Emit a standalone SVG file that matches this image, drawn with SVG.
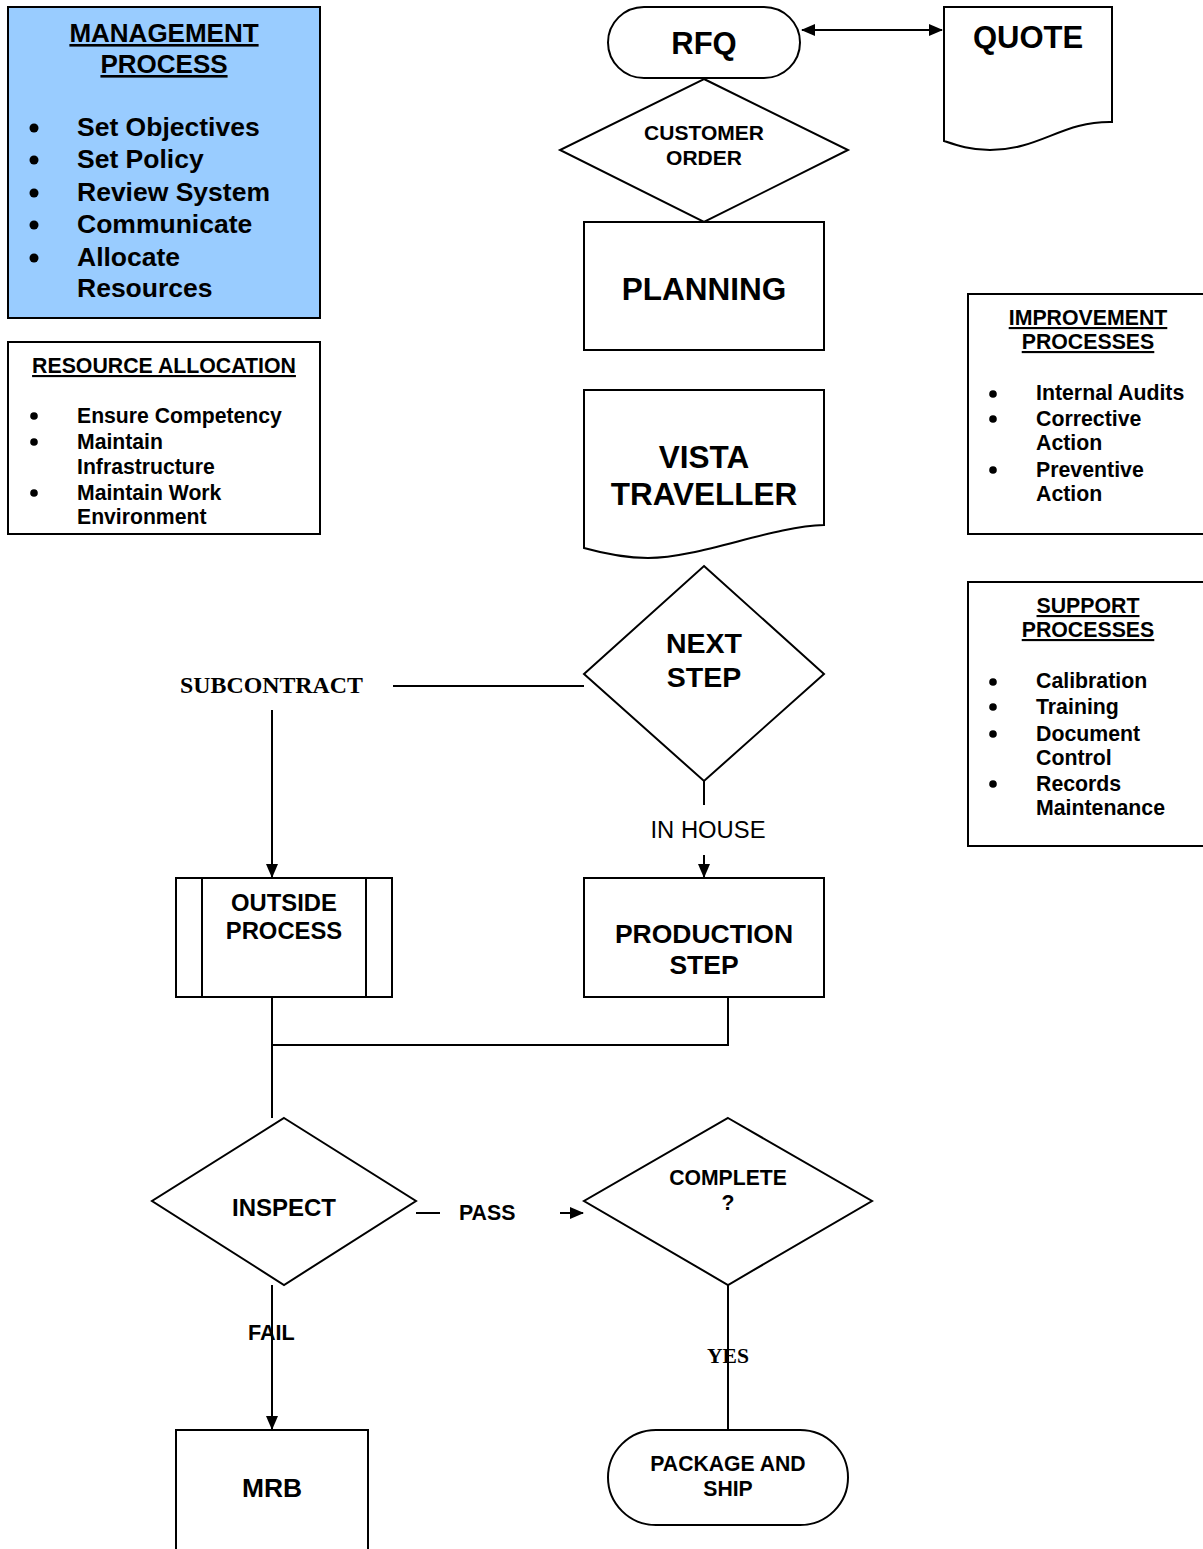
<svg xmlns="http://www.w3.org/2000/svg" width="1203" height="1549" viewBox="0 0 1203 1549">
  <style>
    .box { fill: #ffffff; stroke: #000; stroke-width: 2; }
    .ln { fill: none; stroke: #000; stroke-width: 2; }
    .t { font-family: "Liberation Sans", Arial, sans-serif; font-weight: bold; fill: #000; }
    .c { text-anchor: middle; }
    .u { text-decoration: underline; }
    .serif { font-family: "Liberation Serif", "Times New Roman", serif; font-weight: bold; fill: #000; }
  </style>
  <defs>
    <marker id="arr" markerUnits="userSpaceOnUse" markerWidth="14" markerHeight="12" refX="13" refY="6" orient="auto-start-reverse">
      <path d="M0,0 L14,6 L0,12 Z" fill="#000"/>
    </marker>
  </defs>
  <rect width="1203" height="1549" fill="#ffffff"/>

  <!-- side panels -->
  <g id="management">
    <rect x="8" y="7" width="312" height="311" fill="#99CCFF" stroke="#000" stroke-width="2"/>
    <text class="t c u" x="164" y="42" font-size="26">MANAGEMENT</text>
    <text class="t c u" x="164" y="73" font-size="26">PROCESS</text>
    <g fill="#000">
      <circle cx="34" cy="128" r="4.5"/>
      <circle cx="34" cy="160" r="4.5"/>
      <circle cx="34" cy="193" r="4.5"/>
      <circle cx="34" cy="225" r="4.5"/>
      <circle cx="34" cy="258" r="4.5"/>
    </g>
    <g class="t" font-size="26.5">
      <text x="77" y="136">Set Objectives</text>
      <text x="77" y="168">Set Policy</text>
      <text x="77" y="201">Review System</text>
      <text x="77" y="233">Communicate</text>
      <text x="77" y="266">Allocate</text>
      <text x="77" y="297">Resources</text>
    </g>
  </g>

  <g id="resource-allocation">
    <rect class="box" x="8" y="342" width="312" height="192"/>
    <text class="t c u" x="164" y="373" font-size="21.3">RESOURCE ALLOCATION</text>
    <g fill="#000">
      <circle cx="34" cy="416" r="3.8"/>
      <circle cx="34" cy="442" r="3.8"/>
      <circle cx="34" cy="493" r="3.8"/>
    </g>
    <g class="t" font-size="21.2">
      <text x="77" y="423">Ensure Competency</text>
      <text x="77" y="449">Maintain</text>
      <text x="77" y="474">Infrastructure</text>
      <text x="77" y="500">Maintain Work</text>
      <text x="77" y="524">Environment</text>
    </g>
  </g>

  <g id="improvement">
    <rect class="box" x="968" y="294" width="240" height="240"/>
    <text class="t c u" x="1088" y="325" font-size="21.3">IMPROVEMENT</text>
    <text class="t c u" x="1088" y="349" font-size="21.3">PROCESSES</text>
    <g fill="#000">
      <circle cx="993" cy="394" r="3.8"/>
      <circle cx="993" cy="419" r="3.8"/>
      <circle cx="993" cy="470" r="3.8"/>
    </g>
    <g class="t" font-size="21.3">
      <text x="1036" y="400">Internal Audits</text>
      <text x="1036" y="426">Corrective</text>
      <text x="1036" y="450">Action</text>
      <text x="1036" y="477">Preventive</text>
      <text x="1036" y="501">Action</text>
    </g>
  </g>

  <g id="support">
    <rect class="box" x="968" y="582" width="240" height="264"/>
    <text class="t c u" x="1088" y="613" font-size="21.3">SUPPORT</text>
    <text class="t c u" x="1088" y="637" font-size="21.3">PROCESSES</text>
    <g fill="#000">
      <circle cx="993" cy="682" r="3.8"/>
      <circle cx="993" cy="707" r="3.8"/>
      <circle cx="993" cy="734" r="3.8"/>
      <circle cx="993" cy="784" r="3.8"/>
    </g>
    <g class="t" font-size="21.3">
      <text x="1036" y="688">Calibration</text>
      <text x="1036" y="714">Training</text>
      <text x="1036" y="741">Document</text>
      <text x="1036" y="765">Control</text>
      <text x="1036" y="791">Records</text>
      <text x="1036" y="815">Maintenance</text>
    </g>
  </g>

  <!-- flow connectors -->
  <g id="connectors">
    <line class="ln" x1="802" y1="30" x2="942" y2="30" marker-start="url(#arr)" marker-end="url(#arr)"/>
    <polyline class="ln" points="584,686 393,686"/>
    <line class="ln" x1="272" y1="710" x2="272" y2="877" marker-end="url(#arr)"/>
    <line class="ln" x1="704" y1="781" x2="704" y2="805"/>
    <line class="ln" x1="704" y1="855" x2="704" y2="877" marker-end="url(#arr)"/>
    <polyline class="ln" points="272,997 272,1118"/>
    <polyline class="ln" points="728,997 728,1045 272,1045"/>
    <line class="ln" x1="416" y1="1213" x2="440" y2="1213"/>
    <line class="ln" x1="560" y1="1213" x2="583" y2="1213" marker-end="url(#arr)"/>
    <line class="ln" x1="272" y1="1285" x2="272" y2="1429" marker-end="url(#arr)"/>
    <line class="ln" x1="728" y1="1285" x2="728" y2="1430"/>
  </g>

  <!-- connector labels -->
  <g id="labels">
    <text class="serif" x="180" y="693" font-size="23" textLength="183" lengthAdjust="spacingAndGlyphs">SUBCONTRACT</text>
    <text x="708" y="838" font-family="Liberation Sans, Arial, sans-serif" font-size="23" text-anchor="middle" textLength="115" lengthAdjust="spacingAndGlyphs">IN HOUSE</text>
    <text class="t" x="459" y="1220" font-size="21.3">PASS</text>
    <text class="t" x="248" y="1340" font-size="21.6">FAIL</text>
    <text class="serif c" x="728" y="1363" font-size="21.6">YES</text>
  </g>

  <!-- flow nodes -->
  <g id="rfq">
    <rect class="box" x="608" y="7" width="192" height="71" rx="36" ry="36"/>
    <text class="t c" x="704" y="54" font-size="31">RFQ</text>
  </g>

  <g id="quote">
    <path class="box" d="M944,7 H1112 V122 C1062,121 1040,150 990,150 C970,150 956,145 944,141 Z"/>
    <text class="t c" x="1028" y="48" font-size="31">QUOTE</text>
  </g>

  <g id="customer-order">
    <polygon class="box" points="704,79 848,150 704,222 560,150"/>
    <text class="t c" x="704" y="140" font-size="21">CUSTOMER</text>
    <text class="t c" x="704" y="165" font-size="21">ORDER</text>
  </g>

  <g id="planning">
    <rect class="box" x="584" y="222" width="240" height="128"/>
    <text class="t c" x="704" y="300" font-size="31.5">PLANNING</text>
  </g>

  <g id="vista-traveller">
    <path class="box" d="M584,390 H824 V525 C772,526 700,558 648,558 C622,558 602,553 584,548 Z"/>
    <text class="t c" x="704" y="468" font-size="31.5">VISTA</text>
    <text class="t c" x="704" y="505" font-size="31.5">TRAVELLER</text>
  </g>

  <g id="next-step">
    <polygon class="box" points="704,566 824,674 704,781 584,674"/>
    <text class="t c" x="704" y="653" font-size="28.5">NEXT</text>
    <text class="t c" x="704" y="687" font-size="28.5">STEP</text>
  </g>

  <g id="outside-process">
    <rect class="box" x="176" y="878" width="216" height="119"/>
    <line class="ln" x1="202" y1="878" x2="202" y2="997"/>
    <line class="ln" x1="366" y1="878" x2="366" y2="997"/>
    <text class="t c" x="284" y="911" font-size="23.8">OUTSIDE</text>
    <text class="t c" x="284" y="939" font-size="23.8">PROCESS</text>
  </g>

  <g id="production-step">
    <rect class="box" x="584" y="878" width="240" height="119"/>
    <text class="t c" x="704" y="943" font-size="26.5">PRODUCTION</text>
    <text class="t c" x="704" y="974" font-size="26.5">STEP</text>
  </g>

  <g id="inspect">
    <polygon class="box" points="284,1118 416,1201 284,1285 152,1201"/>
    <text class="t c" x="284" y="1216" font-size="24">INSPECT</text>
  </g>

  <g id="complete">
    <polygon class="box" points="728,1118 872,1201 728,1285 584,1201"/>
    <text class="t c" x="728" y="1185" font-size="21.2">COMPLETE</text>
    <text class="t c" x="728" y="1210" font-size="21.2">?</text>
  </g>

  <g id="package-and-ship">
    <rect class="box" x="608" y="1430" width="240" height="95" rx="48" ry="48"/>
    <text class="t c" x="728" y="1471" font-size="21.2">PACKAGE AND</text>
    <text class="t c" x="728" y="1496" font-size="21.2">SHIP</text>
  </g>

  <g id="mrb">
    <rect class="box" x="176" y="1430" width="192" height="130"/>
    <text class="t c" x="272" y="1497" font-size="26.4">MRB</text>
  </g>
</svg>
